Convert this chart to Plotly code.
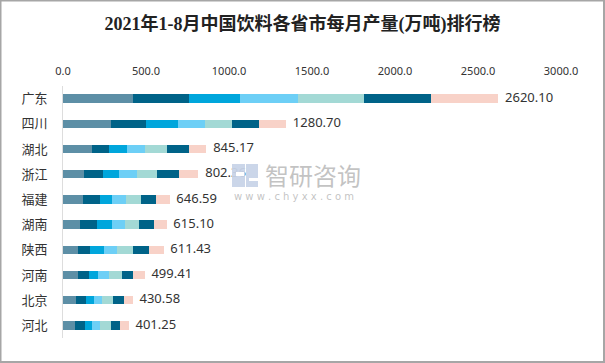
import plotly.graph_objects as go

provinces = ["广东", "四川", "湖北", "浙江", "福建", "湖南", "陕西", "河南", "北京", "河北"]
months = ["1-2月", "3月", "4月", "5月", "6月", "7月", "8月"]
m12 = [420, 288, 174, 126, 120, 102, 90, 90, 78, 72]
m3 = [342, 210, 102, 114, 102, 102, 72, 66, 60, 60]
m4 = [306, 192, 108, 96, 72, 90, 84, 54, 48, 42]
m5 = [348, 168, 108, 108, 84, 78, 78, 66, 48, 48]
m6 = [396, 162, 132, 120, 90, 84, 96, 78, 66, 66]
m7 = [402, 162, 132, 132, 90, 90, 96, 66, 66, 54]
m8 = [408, 162, 108, 120, 84, 78, 90, 72, 54, 54]
totals = [2620.10, 1280.70, 845.17, 802.36, 646.59, 615.10, 611.43, 499.41, 430.58, 401.25]
x_ticks = [0, 500, 1000, 1500, 2000, 2500, 3000]

series = [m12, m3, m4, m5, m6, m7, m8]
colors = ["#5d8fa6", "#006388", "#00a6dc", "#6dcff6", "#a3d9d5", "#006388", "#f8d2c8"]

W, H = 605, 363
L, R, T, B = 63, 44, 86, 25
PW, PH = W - L - R, H - T - B

fig = go.Figure()
for name, vals, c in zip(months, series, colors):
    fig.add_trace(go.Bar(
        y=provinces, x=vals, name=name, orientation="h",
        marker=dict(color=c, line=dict(width=0)),
        hoverinfo="x+name",
    ))

stack_end = [sum(v) for v in zip(*series)]
fig.add_trace(go.Scatter(
    x=stack_end, y=provinces, mode="text",
    text=["  " + f"{t:.2f}" for t in totals],
    textposition="middle right",
    textfont=dict(size=13, color="#333333", family="Noto Sans, DejaVu Sans"),
    hoverinfo="skip", showlegend=False, cliponaxis=False,
))

def px_x(p):
    return (p - L) / PW

def px_y(p):
    return 1 - (p - T) / PH

shapes = [
    # outer border
    dict(type="rect", xref="paper", yref="paper",
         x0=px_x(0.5), x1=px_x(W - 1), y0=px_y(H - 1), y1=px_y(0.5),
         line=dict(color="#a6a6a6", width=2), fillcolor="rgba(0,0,0,0)", layer="above"),
    # watermark logo
    dict(type="rect", xref="paper", yref="paper",
         x0=px_x(232), x1=px_x(245), y0=px_y(187), y1=px_y(164),
         line=dict(width=0), fillcolor="rgba(200,212,232,0.95)", layer="above"),
    dict(type="rect", xref="paper", yref="paper",
         x0=px_x(246), x1=px_x(258), y0=px_y(187), y1=px_y(164),
         line=dict(width=0), fillcolor="rgba(200,212,232,0.95)", layer="above"),
    dict(type="rect", xref="paper", yref="paper",
         x0=px_x(236), x1=px_x(244), y0=px_y(176), y1=px_y(172),
         line=dict(width=0), fillcolor="white", layer="above"),
    dict(type="rect", xref="paper", yref="paper",
         x0=px_x(249), x1=px_x(258), y0=px_y(181), y1=px_y(178),
         line=dict(width=0), fillcolor="white", layer="above"),
]

annotations = [
    dict(text="智研咨询", xref="paper", yref="paper", x=px_x(263), y=px_y(174),
         xanchor="left", yanchor="middle", showarrow=False,
         font=dict(size=24, color="rgba(175,175,175,0.75)", family="Noto Sans CJK SC")),
    dict(text="w w w . c h y x x . c o m", xref="paper", yref="paper", x=px_x(232), y=px_y(196),
         xanchor="left", yanchor="middle", showarrow=False,
         font=dict(size=10, color="rgba(175,175,175,0.75)", family="DejaVu Sans")),
]

fig.update_layout(
    width=W, height=H,
    margin=dict(l=L, r=R, t=T, b=B, pad=0),
    barmode="stack", bargap=0.66,
    showlegend=False,
    plot_bgcolor="white", paper_bgcolor="white",
    title=dict(text="<b>2021年1-8月中国饮料各省市每月产量(万吨)排行榜</b>",
               x=0.5, xanchor="center", y=1 - 24 / H, yanchor="middle", yref="container",
               font=dict(size=18, color="#222222", family="Liberation Serif, Noto Sans CJK SC")),
    xaxis=dict(range=[0, 3000], side="top", tickvals=x_ticks,
               ticktext=[f"{v:.1f}" for v in x_ticks],
               showgrid=False, zeroline=False, showline=False, ticks="",
               tickfont=dict(size=11, color="#333333", family="Noto Sans, DejaVu Sans"),
               ticklabelstandoff=8, fixedrange=True),
    yaxis=dict(categoryorder="array", categoryarray=provinces, autorange="reversed",
               showgrid=False, zeroline=False, showline=True, linecolor="#dddddd", linewidth=1,
               ticks="", tickfont=dict(size=13, color="#333333", family="Noto Sans CJK SC"),
               ticklabelstandoff=12, fixedrange=True),
    shapes=shapes, annotations=annotations,
)

fig.write_html("out.html", config={"displayModeBar": False},
               post_script="document.body.style.margin='0';document.body.style.overflow='hidden';")
